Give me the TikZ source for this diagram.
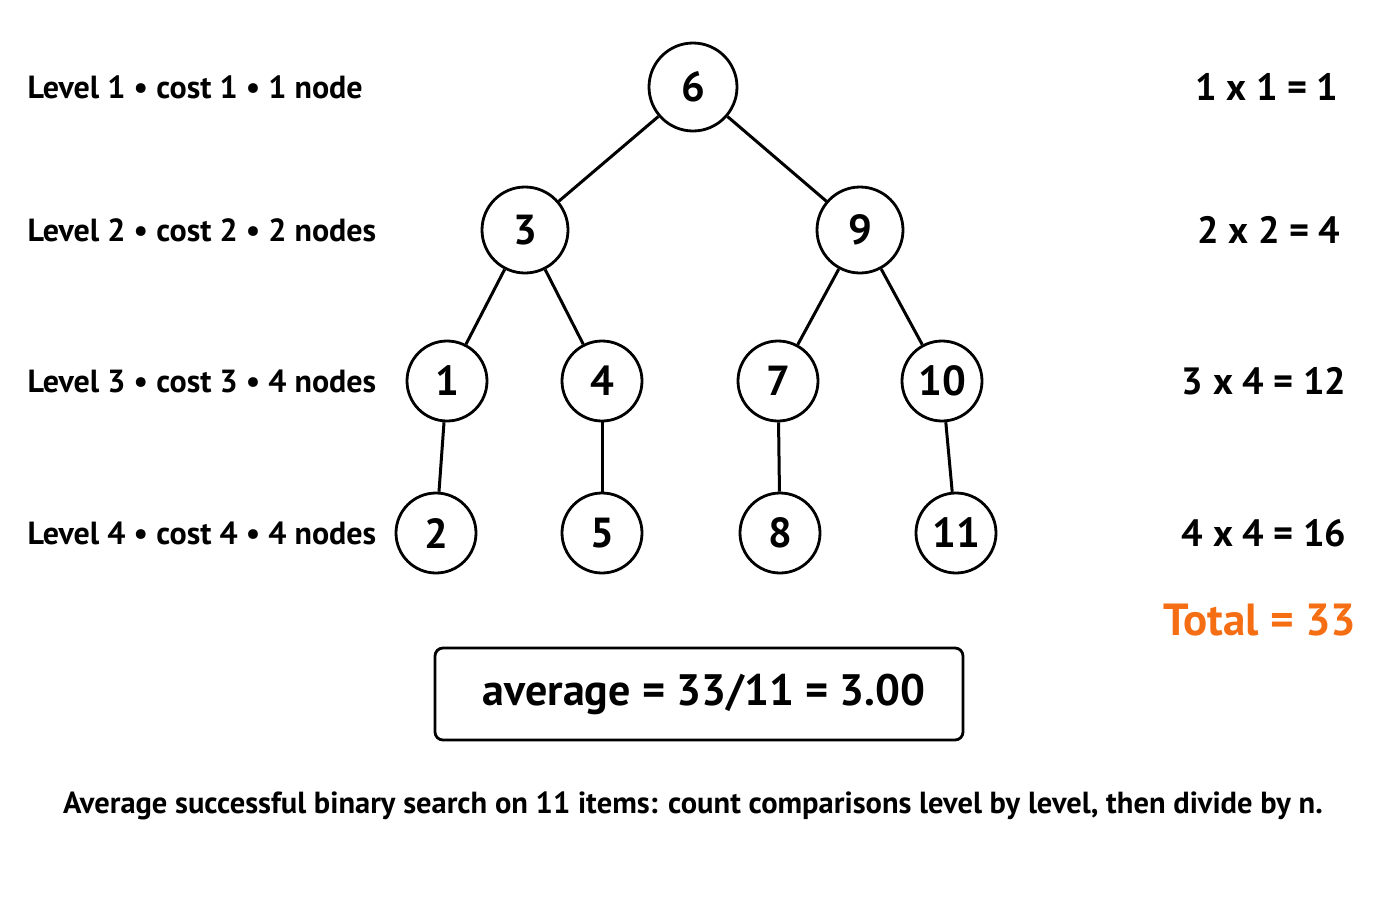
\documentclass[tikz,border=0pt]{standalone}
\usepackage{fontspec}
\setmainfont{PT Sans}
\begin{document}
\begin{tikzpicture}[x=1pt,y=-1pt,
  n/.style={circle,draw,line width=2.8pt,minimum size=80pt,inner sep=0pt,font=\fontsize{42}{46}\selectfont\bfseries},
  e/.style={line width=3pt},
  lab/.style={anchor=west,font=\fontsize{32}{36}\selectfont\bfseries},
  eq/.style={anchor=east,font=\fontsize{38}{42}\selectfont\bfseries}]
\useasboundingbox[fill=white] (0,0) rectangle (1400,900);
\node[n,minimum size=88pt] (n6) at (693,87) {6};
\node[n,minimum size=86pt] (n3) at (525,230) {3};
\node[n,minimum size=86pt] (n9) at (860,230) {9};
\node[n] (n1) at (447,381) {1};
\node[n] (n4) at (602,381) {4};
\node[n] (n7) at (778,381) {7};
\node[n] (n10) at (942,381) {10};
\node[n] (n2) at (436,533) {2};
\node[n] (n5) at (602,533) {5};
\node[n] (n8) at (780,533) {8};
\node[n] (n11) at (956,533) {11};
\draw[e] (n6)--(n3); \draw[e] (n6)--(n9);
\draw[e] (n3)--(n1); \draw[e] (n3)--(n4);
\draw[e] (n9)--(n7); \draw[e] (n9)--(n10);
\draw[e] (n1)--(n2); \draw[e] (n4)--(n5);
\draw[e] (n7)--(n8); \draw[e] (n10)--(n11);
\node[lab] (l1) at (24,87) {Level 1 • cost 1 • 1 node};
\node[lab] (l2) at (24,230) {Level 2 • cost 2 • 2 nodes};
\node[lab] (l3) at (24,381) {Level 3 • cost 3 • 4 nodes};
\node[lab] (l4) at (24,533) {Level 4 • cost 4 • 4 nodes};
\node[eq] (r1) at (1342,87) {1 x 1 = 1};
\node[eq] (r2) at (1344,230) {2 x 2 = 4};
\node[eq] (r3) at (1350,381) {3 x 4 = 12};
\node[eq] (r4) at (1350,533) {4 x 4 = 16};
\node[eq,text={rgb,255:red,245;green,110;blue,20},font=\fontsize{45}{50}\selectfont\bfseries] (tot) at (1360,620) {Total = 33};
\draw[line width=2.8pt,rounded corners=8pt] (435,648) rectangle (963,740);
\node[font=\fontsize{44}{50}\selectfont\bfseries] (avg) at (704,694) {average = 33/11 = 3.00};
\node[font=\fontsize{30.5}{36}\selectfont\bfseries] (cap) at (693,806) {Average successful binary search on 11 items: count comparisons level by level, then divide by n.};
\end{tikzpicture}
\end{document}
